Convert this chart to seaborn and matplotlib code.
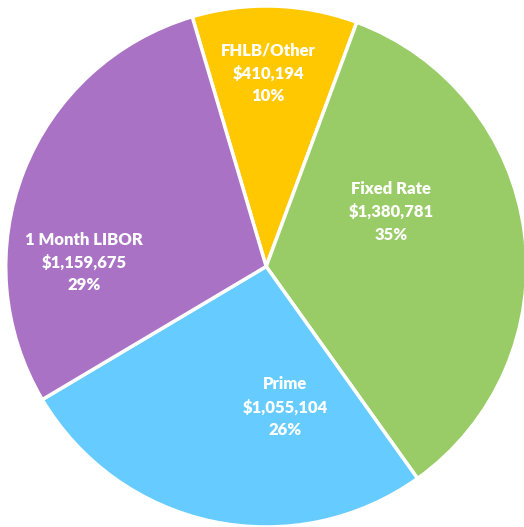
import matplotlib
matplotlib.use("Agg")
import matplotlib.pyplot as plt
import seaborn as sns

sns.set_theme(style="white")
plt.rcParams['font.family'] = ['Lato', 'DejaVu Sans']

categories = ["FHLB/Other", "Fixed Rate", "Prime", "1 Month LIBOR"]
amounts = [410194, 1380781, 1055104, 1159675]
pct_labels = ["10%", "35%", "26%", "29%"]
colors = ["#FFC800", "#99CC66", "#66CCFF", "#AA72C4"]

# label anchor points (in units of pie radius)
label_pos = [(0.008, 0.74), (0.48, 0.21), (0.074, -0.54), (-0.70, 0.016)]

fig = plt.figure(figsize=(5.24, 5.27), dpi=100)
ax = fig.add_axes([0, 0, 1, 1])
wedges, _ = ax.pie(amounts, colors=colors, startangle=106.5, counterclock=False,
                   wedgeprops=dict(edgecolor="white", linewidth=2.5))

for cat, amt, pct, (x, y) in zip(categories, amounts, pct_labels, label_pos):
    ax.text(x, y, f"{cat}\n${amt:,}\n{pct}", ha="center", va="center",
            color="white", fontweight="heavy", fontsize=12, linespacing=1.5)

ax.set_xlim(-1.022, 0.99)
ax.set_ylim(-1.0, 1.023)
ax.set_aspect("auto")
ax.axis("off")

plt.savefig("out.png", dpi=100)
